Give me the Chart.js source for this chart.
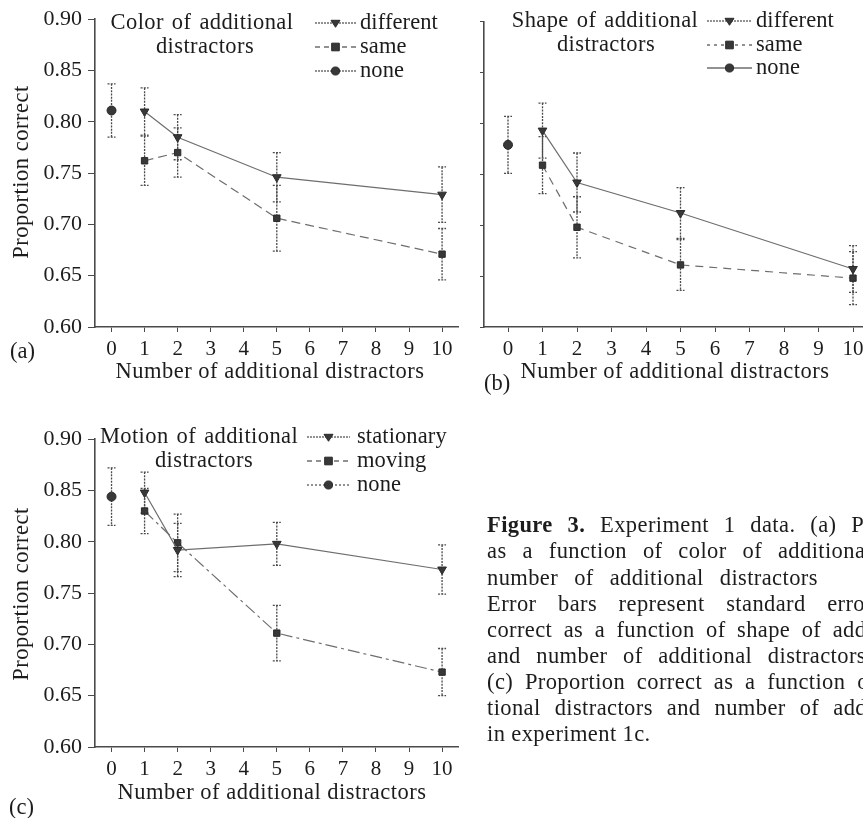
<!DOCTYPE html>
<html><head><meta charset="utf-8">
<script src="https://cdn.jsdelivr.net/npm/chart.js@4.4.1/dist/chart.umd.min.js"></script>
<style>
html,body{margin:0;padding:0;background:#fff;}
body{width:863px;height:818px;overflow:hidden;position:relative;font-family:'Liberation Serif','Times New Roman',serif;color:#1c1c1c;}
.panel{position:absolute;}
.t{position:absolute;white-space:nowrap;line-height:1;}
#caption{position:absolute;left:487px;top:0;width:376px;height:818px;overflow:hidden;}
</style></head><body>
<div class="panel" style="left:0px;top:0px"><canvas id="ca"></canvas></div>
<div class="panel" style="left:470px;top:0px"><canvas id="cb"></canvas></div>
<div class="panel" style="left:0px;top:420px"><canvas id="cc"></canvas></div>
<div id="caption"></div>
<script>
// ---------------- data ----------------
const xTickValues = [0, 1, 2, 3, 4, 5, 6, 7, 8, 9, 10];
const yTickValues = [0.60, 0.65, 0.70, 0.75, 0.80, 0.85, 0.90];
const distractorCounts = [1, 2, 5, 10];
const noneCount = [0];

// (a) colour of additional distractors
const colorDifferent = [0.810, 0.785, 0.746, 0.729];
const colorDifferentErr = [0.023, 0.022, 0.024, 0.027];
const colorSame = [0.762, 0.770, 0.706, 0.671];
const colorSameErr = [0.024, 0.024, 0.032, 0.025];
const colorNone = [0.811];
const colorNoneErr = [0.026];

// (b) shape of additional distractors
const shapeDifferent = [0.793, 0.742, 0.712, 0.657];
const shapeDifferentErr = [0.027, 0.029, 0.025, 0.023];
const shapeSame = [0.759, 0.698, 0.661, 0.648];
const shapeSameErr = [0.028, 0.030, 0.025, 0.026];
const shapeNone = [0.779];
const shapeNoneErr = [0.028];

// (c) motion of additional distractors
const motionStationary = [0.848, 0.792, 0.798, 0.773];
const motionStationaryErr = [0.020, 0.026, 0.021, 0.024];
const motionMoving = [0.830, 0.799, 0.711, 0.673];
const motionMovingErr = [0.022, 0.028, 0.027, 0.023];
const motionNone = [0.844];
const motionNoneErr = [0.028];

const captionLines = [
  '<b>Figure 3.</b> Experiment 1 data. (a) Proportion correct',
  'as a function of color of additional distractors and',
  'number of additional distractors <span style="margin-left:40px">in experiment 1a.</span>',
  'Error bars represent standard errors. (b) Proportion',
  'correct as a function of shape of additional distractors',
  'and number of additional distractors in experiment 1b.',
  '(c) Proportion correct as a function of motion of addi-',
  'tional distractors and number of additional distractors',
  'in experiment 1c.'
];

// ---------------- styling ----------------
const FONT = "'Liberation Serif','Times New Roman',serif";
const LINE = '#6e6e6e';
const MARK = '#383838';
const AXIS = '#4a4a4a';

function addText(html, x, cy, o) {
  o = o || {};
  const d = document.createElement('div');
  d.className = 't';
  const fs = o.size || 22.5;
  d.style.fontSize = fs + 'px';
  d.style.letterSpacing = (o.ls !== undefined ? o.ls : 0.4) + 'px';
  if (o.ws !== undefined) d.style.wordSpacing = o.ws + 'px';
  d.innerHTML = html;
  d.style.top = (cy - fs * 0.52) + 'px';
  d.style.left = x + 'px';
  if (o.rotate) {
    d.style.top = cy + 'px';
    d.style.transform = 'translate(-50%,-50%) rotate(-90deg)';
  } else if (o.center) {
    d.style.transform = 'translateX(-50%)';
  }
  (o.parent || document.body).appendChild(d);
  return d;
}

function drawMarker(ctx, shape, x, y, r) {
  ctx.beginPath();
  if (shape === 'triangle') {
    ctx.moveTo(x - r, y - r * 0.6);
    ctx.lineTo(x + r, y - r * 0.6);
    ctx.lineTo(x, y + r * 0.95);
    ctx.closePath();
  } else if (shape === 'rect') {
    ctx.rect(x - r * 0.85, y - r * 0.85, r * 1.7, r * 1.7);
  } else {
    ctx.arc(x, y, r * 0.9, 0, Math.PI * 2);
  }
  ctx.fill();
  ctx.stroke();
}

const errorBarPlugin = {
  id: 'errorBars',
  beforeDatasetsDraw(chart) {
    const ctx = chart.ctx, xs = chart.scales.x, ys = chart.scales.y;
    ctx.save();
    ctx.strokeStyle = '#4a4a4a';
    ctx.lineWidth = 1.3;
    ctx.setLineDash([2, 1.2]);
    chart.data.datasets.forEach(ds => {
      ds.data.forEach((p, i) => {
        const e = ds.errors[i];
        const px = xs.getPixelForValue(p.x);
        const yt = ys.getPixelForValue(p.y + e);
        const yb = ys.getPixelForValue(p.y - e);
        ctx.beginPath();
        ctx.moveTo(px, yt); ctx.lineTo(px, yb);
        ctx.moveTo(px - 4, yt); ctx.lineTo(px + 4, yt);
        ctx.moveTo(px - 4, yb); ctx.lineTo(px + 4, yb);
        ctx.stroke();
      });
    });
    ctx.restore();
  }
};

const legendPlugin = {
  id: 'legendSamples',
  afterDraw(chart) {
    const L = chart.options.plugins.legendSamples;
    if (!L) return;
    const ctx = chart.ctx;
    ctx.save();
    L.rows.forEach(r => {
      const y = r.y - L.oy;
      const x1 = L.x1 - L.ox, x2 = L.x2 - L.ox;
      ctx.strokeStyle = LINE;
      ctx.lineWidth = 1.3;
      ctx.setLineDash(r.dash);
      ctx.beginPath(); ctx.moveTo(x1, y); ctx.lineTo(x2, y); ctx.stroke();
      ctx.setLineDash([]);
      ctx.fillStyle = MARK; ctx.strokeStyle = '#2a2a2a'; ctx.lineWidth = 1;
      drawMarker(ctx, r.shape, (x1 + x2) / 2, y, 4.5);
    });
    ctx.restore();
  }
};

function series(xs, ys, errs, shape, dash) {
  return {
    data: xs.map((x, i) => ({ x: x, y: ys[i] })),
    errors: errs,
    borderColor: LINE,
    borderWidth: 1.2,
    borderDash: dash,
    tension: 0,
    pointStyle: shape,
    pointRotation: shape === 'triangle' ? 180 : 0,
    pointRadius: shape === 'triangle' ? 5 : 4.5,
    pointBackgroundColor: MARK,
    pointBorderColor: '#2a2a2a',
    pointBorderWidth: 1
  };
}

function makeChart(id, c) {
  const cv = document.getElementById(id);
  cv.width = c.w; cv.height = c.h;
  cv.style.width = c.w + 'px'; cv.style.height = c.h + 'px';
  return new Chart(cv, {
    type: 'line',
    data: { datasets: c.datasets },
    options: {
      responsive: false,
      animation: false,
      events: [],
      layout: { padding: { top: c.padTop, right: c.padRight, left: 0, bottom: 0 } },
      plugins: {
        legend: { display: false },
        tooltip: { enabled: false },
        legendSamples: c.legend
      },
      scales: {
        x: {
          type: 'linear', min: c.xMin, max: c.xMax,
          afterBuildTicks: s => { s.ticks = xTickValues.map(v => ({ value: v })); },
          afterFit: s => { s.height = c.h - c.bottom; },
          grid: { drawOnChartArea: false, drawTicks: true, tickLength: 5, color: AXIS, lineWidth: 1 },
          border: { display: true, color: AXIS, width: 1.6, dash: [2, 1.4] },
          ticks: { font: { family: FONT, size: 21 }, color: '#1c1c1c', padding: 5, maxRotation: 0, autoSkip: false }
        },
        y: {
          type: 'linear', min: 0.60, max: 0.90,
          afterBuildTicks: s => { s.ticks = yTickValues.map(v => ({ value: v })); },
          afterFit: s => { s.width = c.yWidth; },
          grid: { drawOnChartArea: false, drawTicks: true, tickLength: c.yTick, color: AXIS, lineWidth: 1 },
          border: { display: true, color: AXIS, width: 1.6, dash: [2, 1.4] },
          ticks: { display: c.yLabels, font: { family: FONT, size: 22 }, color: '#1c1c1c', padding: 6,
                   callback: v => Number(v).toFixed(2) }
        }
      }
    },
    plugins: [errorBarPlugin, legendPlugin]
  });
}

// ---------- panel (a) ----------
makeChart('ca', {
  w: 475, h: 360, padTop: 15, padRight: 16.4, bottom: 327, yWidth: 95, yTick: 7, yLabels: true,
  xMin: -0.5, xMax: 10.5,
  datasets: [
    series(distractorCounts, colorDifferent, colorDifferentErr, 'triangle', []),
    series(distractorCounts, colorSame, colorSameErr, 'rect', [9, 5]),
    series(noneCount, colorNone, colorNoneErr, 'circle', [])
  ],
  legend: { ox: 0, oy: 0, x1: 315, x2: 356, rows: [
    { y: 23, dash: [2, 1], shape: 'triangle' },
    { y: 47, dash: [5, 4], shape: 'rect' },
    { y: 71, dash: [2, 1], shape: 'circle' } ] }
});

// ---------- panel (b) ----------
makeChart('cb', {
  w: 430, h: 360, padTop: 21.7, padRight: 19.4, bottom: 327, yWidth: 14, yTick: 4, yLabels: false,
  xMin: -0.696, xMax: 10.8,
  datasets: [
    series(distractorCounts, shapeDifferent, shapeDifferentErr, 'triangle', []),
    series(distractorCounts, shapeSame, shapeSameErr, 'rect', [8, 6]),
    series(noneCount, shapeNone, shapeNoneErr, 'circle', [])
  ],
  legend: { ox: 470, oy: 0, x1: 707, x2: 752, rows: [
    { y: 21, dash: [2, 1], shape: 'triangle' },
    { y: 45, dash: [3, 4], shape: 'rect' },
    { y: 68, dash: [], shape: 'circle' } ] }
});

// ---------- panel (c) ----------
makeChart('cc', {
  w: 475, h: 360, padTop: 15, padRight: 16.4, bottom: 327, yWidth: 95, yTick: 7, yLabels: true,
  xMin: -0.5, xMax: 10.5,
  datasets: [
    series(distractorCounts, motionStationary, motionStationaryErr, 'triangle', []),
    series(distractorCounts, motionMoving, motionMovingErr, 'rect', [12, 4, 3, 4]),
    series(noneCount, motionNone, motionNoneErr, 'circle', [])
  ],
  legend: { ox: 0, oy: 420, x1: 307, x2: 350, rows: [
    { y: 437, dash: [2, 1], shape: 'triangle' },
    { y: 461, dash: [5, 4], shape: 'rect' },
    { y: 485, dash: [2, 2], shape: 'circle' } ] }
});

// ---------- texts ----------
// panel (a)
addText('Color of additional', 202, 23, { center: true, ws: 2 });
addText('distractors', 205, 47, { center: true });
addText('different', 360, 23, { ls: 0.1 });
addText('same', 360, 47, { ls: 0.1 });
addText('none', 360, 71, { ls: 0.1 });
addText('Proportion correct', 21, 172, { rotate: true, ls: 0.5 });
addText('Number of additional distractors', 270, 372, { center: true, ls: 0.5 });
addText('(a)', 10, 352, { ls: 0 });

// panel (b)
addText('Shape of additional', 605, 21, { center: true, ws: 2 });
addText('distractors', 606, 45, { center: true });
addText('different', 756, 21, { ls: 0.1 });
addText('same', 756, 45, { ls: 0.1 });
addText('none', 756, 68, { ls: 0.1 });
addText('Number of additional distractors', 675, 372, { center: true, ls: 0.5 });
addText('(b)', 484, 384, { ls: 0 });

// panel (c)
addText('Motion of additional', 199, 437, { center: true, ws: 2 });
addText('distractors', 204, 461, { center: true });
addText('stationary', 357, 437, { ls: 0.1 });
addText('moving', 357, 461, { ls: 0.1 });
addText('none', 357, 485, { ls: 0.1 });
addText('Proportion correct', 21, 594, { rotate: true, ls: 0.5 });
addText('Number of additional distractors', 272, 793, { center: true, ls: 0.5 });
addText('(c)', 9, 808, { ls: 0 });

// caption
const cap = document.getElementById('caption');
const captionWordSpacing = [8.8, 9.9, 10, 15.5, 5.4, 9.6, 5.7, 8, 0];
captionLines.forEach((line, i) => {
  addText(line, 0, 526 + i * 26.1, { size: 22.5, ls: 0.4, ws: captionWordSpacing[i], parent: cap });
});
</script>
</body></html>
